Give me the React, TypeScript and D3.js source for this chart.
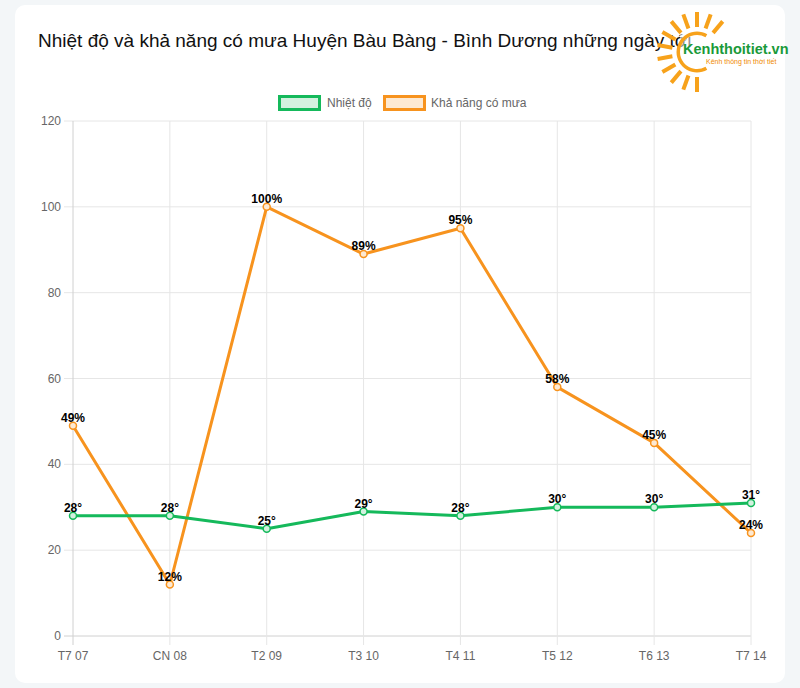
import React from "react";
import * as d3 from "d3";

const categories = ["T7 07", "CN 08", "T2 09", "T3 10", "T4 11", "T5 12", "T6 13", "T7 14"];
const temperature = [28, 28, 25, 29, 28, 30, 30, 31];
const rainChance = [49, 12, 100, 89, 95, 58, 45, 24];
const yTicks = [0, 20, 40, 60, 80, 100, 120];

const GREEN = "#15b95b";
const ORANGE = "#f7931e";
const FONT = "'Liberation Sans', Arial, Helvetica, sans-serif";

export default function App() {
  const W = 800, H = 688;
  const x = d3.scalePoint<string>().domain(categories).range([73, 751]);
  const y = d3.scaleLinear().domain([0, 120]).range([636, 121]);
  const line = d3.line<number>().x((_, i) => x(categories[i]) as number).y((d) => y(d));

  const rayAngles = [-50, -70, -90, -110, -130, -150, -170, 170, 150, 130, 110, 90];
  const sc = { x: 697, y: 52 };
  const deg = Math.PI / 180;
  const sunArc = d3.arc()({ innerRadius: 17, outerRadius: 20.5, startAngle: 30 * deg, endAngle: -210 * deg } as any) || "";

  const series = [
    { data: rainChance, color: ORANGE, fill: "#fde9d2", suffix: "%" },
    { data: temperature, color: GREEN, fill: "#d3f1df", suffix: "°" },
  ];

  return (
    <svg width={W} height={H} style={{ position: "absolute", left: 0, top: 0 }} fontFamily={FONT}>
      <rect x={0} y={0} width={W} height={H} fill="#f3f6f8" />
      <rect x={15} y={5} width={770} height={678} rx={10} fill="#ffffff" />

      <text x={38} y={47} fontSize={19} fill="#111">
        Nhiệt độ và khả năng có mưa Huyện Bàu Bàng - Bình Dương những ngày tới
      </text>

      {/* logo */}
      <g>
        <rect x={680} y={28} width={20} height={28} fill="#ffffff" opacity={0.55} />
        {rayAngles.map((a, i) => {
          const r = a * deg;
          const r1 = 25, r2 = 40;
          return (
            <line key={i}
              x1={sc.x + r1 * Math.cos(r)} y1={sc.y + r1 * Math.sin(r)}
              x2={sc.x + r2 * Math.cos(r)} y2={sc.y + r2 * Math.sin(r)}
              stroke="#f7a21b" strokeWidth={4} strokeLinecap="butt" />
          );
        })}
        <path d={sunArc} transform={`translate(${sc.x},${sc.y})`} fill="#f7a21b" />
        <text x={683} y={54} fontSize={14.5} fontWeight="bold" fill="#1a9a3a">Kenhthoitiet.vn</text>
        <text x={706} y={64} fontSize={7} fill="#f08a00">Kênh thông tin thời tiết</text>
      </g>

      {/* legend */}
      <rect x={279.5} y={96.5} width={40} height={13} fill={series[1].fill} stroke={GREEN} strokeWidth={3} />
      <text x={327} y={107} fontSize={12} fill="#666">Nhiệt độ</text>
      <rect x={384.5} y={96.5} width={40} height={13} fill={series[0].fill} stroke={ORANGE} strokeWidth={3} />
      <text x={431} y={107} fontSize={12} fill="#666">Khả năng có mưa</text>

      {/* grid */}
      {yTicks.map((t) => (
        <g key={t}>
          <line x1={64} x2={751} y1={y(t)} y2={y(t)} stroke={t === 0 ? "#d0d0d0" : "#e6e6e6"} strokeWidth={1} />
          <text x={61} y={y(t) + 4} fontSize={12} fill="#666" textAnchor="end">{t}</text>
        </g>
      ))}
      {categories.map((c, i) => (
        <g key={c}>
          <line x1={x(c)} x2={x(c)} y1={121} y2={645} stroke={i === 0 ? "#d0d0d0" : "#e6e6e6"} strokeWidth={1} />
          <text x={x(c)} y={660} fontSize={12} fill="#666" textAnchor="middle">{c}</text>
        </g>
      ))}

      {/* series */}
      {series.map((s, si) => (
        <g key={si}>
          <path d={line(s.data) || ""} fill="none" stroke={s.color} strokeWidth={3} strokeLinejoin="round" />
          {s.data.map((v, i) => (
            <circle key={i} cx={x(categories[i])} cy={y(v)} r={3.5} fill={s.fill} stroke={s.color} strokeWidth={1.5} />
          ))}
        </g>
      ))}
      {series.map((s, si) => (
        <g key={"l" + si}>
          {s.data.map((v, i) => (
            <text key={i} x={x(categories[i])} y={y(v) - 4} fontSize={12} fontWeight="bold" fill="#000" textAnchor="middle">
              {v}{s.suffix}
            </text>
          ))}
        </g>
      ))}
    </svg>
  );
}
